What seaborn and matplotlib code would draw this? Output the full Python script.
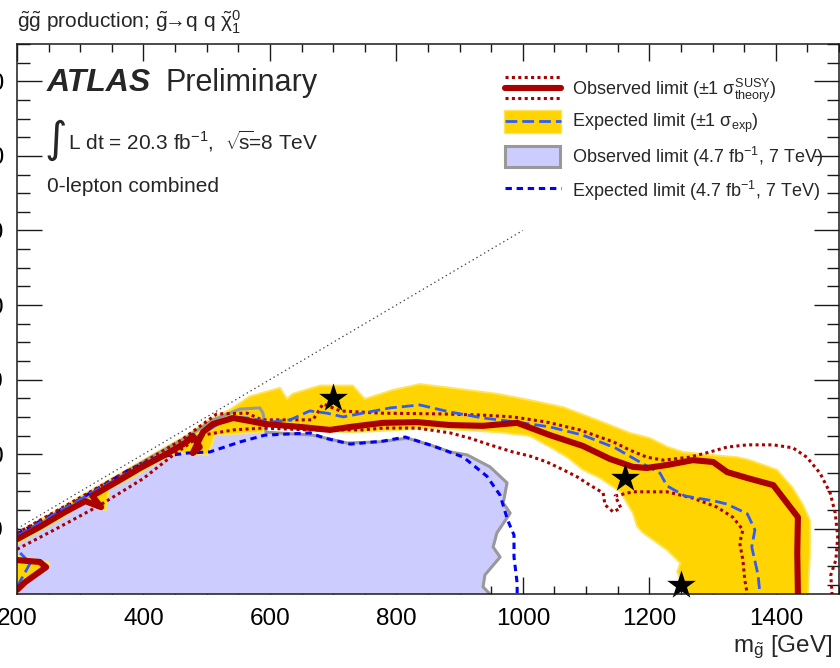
import matplotlib
matplotlib.use("Agg")
import matplotlib.pyplot as plt
from matplotlib.patches import Rectangle
from matplotlib.ticker import MultipleLocator
import seaborn as sns

# ---- exclusion contours in the (m_gluino, m_neutralino) plane [GeV] ----
# 7 TeV, 4.7 fb-1 observed limit (excluded area below the curve)
obs7_mg = [200, 200, 268, 331, 383, 410, 469, 510, 553, 584, 589, 594, 668, 722, 774, 817,
           853, 885, 912, 948, 975, 969, 980, 959, 953, 964, 940, 937, 948]
obs7_mx = [25, 178, 245, 304, 363, 390, 446, 492, 521, 524, 510, 459, 451, 430, 433, 443,
           425, 406, 398, 366, 323, 269, 242, 189, 151, 124, 76, 44, 25]

# 7 TeV expected limit
exp7_mg = [200, 300, 374, 421, 469, 505, 553, 592, 663, 687, 727, 779, 814, 858, 906, 943,
           964, 976, 986, 986, 991, 991]
exp7_mx = [186, 280, 355, 392, 403, 406, 433, 451, 457, 443, 427, 435, 446, 422, 392, 341,
           290, 223, 183, 124, 54, 25]

# 8 TeV expected +-1 sigma band: outer edge (left to right) and inner edge (right to left)
band_out_mg = [200, 265, 330, 385, 430, 470, 500, 537, 568, 616, 627, 636, 679, 731, 750, 794,
               837, 885, 959, 1011, 1064, 1117, 1169, 1201, 1228, 1253, 1296, 1339, 1359, 1402,
               1427, 1443, 1454, 1454, 1451]
band_out_mx = [188, 252, 316, 370, 414, 452, 488, 520, 555, 578, 548, 562, 584, 584, 548, 572,
               588, 578, 562, 545, 526, 492, 457, 443, 420, 406, 398, 392, 384, 358,
               309, 264, 223, 135, 25]
band_in_mg = [1260, 1244, 1249, 1228, 1190, 1181, 1174, 1154, 1122, 1095, 1070, 1043, 1011, 959,
              905, 853, 774, 722, 668, 627, 595, 589, 513, 502, 476, 455, 426, 383, 345, 340,
              305, 268, 200]
band_in_mx = [25, 84, 108, 143, 189, 205, 242, 299, 336, 358, 392, 419, 449, 459,
              465, 470, 462, 459, 465, 481, 481, 459, 451, 398, 400, 405, 382, 338, 305, 250,
              268, 225, 160]

# 8 TeV expected limit
exp8_mg = [200, 260, 330, 400, 460, 474, 489, 537, 564, 600, 632, 663, 690, 716, 747, 790, 837,
           885, 937, 991, 1043, 1095, 1146, 1185, 1217, 1228, 1256, 1304, 1323, 1355, 1367, 1362,
           1372, 1375]
exp8_mx = [180, 240, 308, 372, 425, 433, 451, 500, 497, 486, 492, 516, 510, 500, 510, 524, 532,
           513, 497, 486, 473, 451, 417, 379, 349, 315, 288, 274, 266, 240, 197, 151,
           76, 25]

# 8 TeV observed limit
obs8_mg = [200, 236, 276, 308, 333, 319, 363, 395, 434, 466, 478, 489, 478, 494, 510, 542, 568,
           592, 648, 695, 727, 779, 833, 885, 937, 991, 1043, 1095, 1138, 1174, 1196, 1228, 1269,
           1301, 1323, 1355, 1396, 1435, 1434, 1435]
obs8_mx = [172, 205, 245, 274, 258, 288, 331, 363, 398, 430, 449, 419, 403, 459, 481, 497, 489,
           481, 473, 465, 473, 484, 486, 478, 476, 484, 451, 422, 387, 366, 363, 371, 384,
           379, 352, 336, 317, 231, 135, 25]

# observed limit with signal cross-section shifted by +1 sigma (theory)
obs_up_mg = [200, 270, 340, 410, 460, 516, 564, 587, 668, 684, 711, 774, 869, 932, 984, 1038,
             1090, 1143, 1169, 1196, 1222, 1264, 1296, 1323, 1355, 1396, 1427, 1449, 1470, 1486,
             1494, 1498, 1495, 1487, 1489]
obs_up_mx = [188, 255, 322, 388, 438, 508, 510, 492, 492, 535, 516, 510, 508, 505, 500, 486,
             465, 433, 411, 392, 384, 392, 406, 419, 425, 425, 417, 392, 349, 296,
             242, 178, 116, 76, 25]

# observed limit with signal cross-section shifted by -1 sigma (theory)
obs_dn_mg = [200, 260, 330, 400, 445, 490, 542, 589, 663, 747, 779, 833, 885, 916, 948, 984,
             1011, 1038, 1064, 1086, 1106, 1127, 1130, 1143, 1155, 1146, 1174, 1228, 1269, 1307,
             1332, 1348, 1343, 1348, 1351, 1355]
obs_dn_mx = [145, 198, 262, 335, 395, 450, 465, 470, 465, 465, 470, 470, 457, 443, 425, 406,
             395, 379, 358, 339, 317, 296, 264, 245, 256, 288, 299, 299, 282, 258,
             231, 197, 162, 116, 63, 25]

# small low-mass island next to the m_gluino = 200 GeV edge
isl_band_mg = [200, 252, 225, 200]
isl_band_mx = [129, 108, 71, 28]
isl_obs_mg = [200, 236, 246, 213, 200]
isl_obs_mx = [116, 111, 97, 57, 36]
isl_exp_mg = [200, 221, 205]
isl_exp_mx = [44, 108, 135]

# kinematic boundary m_gluino = m_neutralino
diag_mg = [200, 1000]
diag_mx = [200, 1000]

# benchmark signal points
star_mg = [700, 1162, 1250]
star_mx = [550, 337, 50]

x_ticks = [200, 400, 600, 800, 1000, 1200, 1400]
y_ticks = [200, 400, 600, 800, 1000, 1200, 1400]

RED = "#aa0000"
YELLOW = "#ffd400"
BLUE8 = "#2f5cff"
BLUE7 = "#0000ff"
LILAC = "#ccccff"
GREY = "#999999"

sns.set_theme(style="ticks")
plt.rcParams.update({
    "font.family": ["Liberation Sans", "DejaVu Sans"],
    "mathtext.fontset": "custom",
    "mathtext.rm": "Liberation Sans",
    "mathtext.it": "Liberation Sans",
    "mathtext.bf": "Liberation Sans:bold",
    "mathtext.sf": "Liberation Sans",
    "lines.scale_dashes": False,
    "axes.linewidth": 1.1,
    "axes.edgecolor": "#1a1a1a",
})

W, H = 840, 668
fig = plt.figure(figsize=(W / 100, H / 100), dpi=100)
ax = fig.add_axes([17 / W, 74 / H, 822 / W, 550 / H])
ax.set_facecolor("white")


def curve(xs, ys, **kw):
    sns.lineplot(x=xs, y=ys, sort=False, estimator=None, ax=ax, **kw)


dotted = (0, (2.2, 2.4))
long_dash = (0, (8.5, 3.6))
short_dash = (0, (4.6, 3.4))

# 7 TeV excluded region
ax.fill(obs7_mg, obs7_mx, color=LILAC, lw=0, zorder=1)

# 8 TeV expected band
ax.fill(band_out_mg + band_in_mg, band_out_mx + band_in_mx, facecolor=YELLOW,
        edgecolor="#ffe45a", lw=1.4, zorder=2)
ax.fill(isl_band_mg, isl_band_mx, facecolor=YELLOW, edgecolor="#ffe45a", lw=1.4, zorder=2)

curve(obs7_mg[1:], obs7_mx[1:], color=GREY, lw=2.2, zorder=3)
curve(diag_mg, diag_mx, color="#444444", lw=0.9, linestyle=(0, (1.0, 2.2)), zorder=3)
curve(exp7_mg, exp7_mx, color=BLUE7, lw=2.2, linestyle=short_dash, zorder=4)

curve(obs_up_mg, obs_up_mx, color=RED, lw=2.2, linestyle=dotted, zorder=5)
curve(obs_dn_mg, obs_dn_mx, color=RED, lw=2.2, linestyle=dotted, zorder=5)
curve(exp8_mg, exp8_mx, color=BLUE8, lw=2.0, linestyle=long_dash, zorder=6)
curve(isl_exp_mg, isl_exp_mx, color=BLUE8, lw=2.0, linestyle=long_dash, zorder=6)
curve(obs8_mg, obs8_mx, color=RED, lw=4.4, zorder=7, solid_joinstyle="round")
curve(isl_obs_mg, isl_obs_mx, color=RED, lw=4.4, zorder=7, solid_joinstyle="round")

sns.scatterplot(x=star_mg, y=star_mx, marker="*", s=470, color="black", linewidth=0,
                ax=ax, zorder=9, clip_on=False)

# axes, ticks
ax.set_xlim(200, 1500)
ax.set_ylim(25, 1500)
ax.set_xticks(x_ticks)
ax.set_yticks(y_ticks)
ax.xaxis.set_minor_locator(MultipleLocator(50))
ax.yaxis.set_minor_locator(MultipleLocator(50))
ax.tick_params(which="both", direction="in", top=True, right=True, width=1.0,
               color="#1a1a1a", labelcolor="black")
ax.tick_params(axis="x", which="major", length=12.5, labelsize=17.5, pad=10)
ax.tick_params(axis="x", which="minor", length=6)
ax.tick_params(axis="y", which="major", length=18, labelsize=17.5, pad=9.4)
ax.tick_params(axis="y", which="minor", length=9)
ax.set_xlabel("")
ax.set_ylabel("")
for s in ax.spines.values():
    s.set_visible(True)
    s.set_zorder(10)


def fx(px):
    return px / W


def fy(py):
    return 1 - py / H


fig.text(fx(833), fy(652), r"m$_{\tilde{g}}$ [GeV]", ha="right", va="baseline", fontsize=17.5)

# headline and labels
fig.text(fx(17), fy(28),
         r"$\tilde{g}\tilde{g}$ production; $\tilde{g}\!\!\rightarrow\!\!\!$ q q $\tilde{\chi}^{0}_{1}$",
         ha="left", va="baseline", fontsize=15)
fig.text(fx(47), fy(91), "ATLAS", ha="left", va="baseline", fontsize=23,
         fontweight="bold", fontstyle="italic")
fig.text(fx(165), fy(91), "Preliminary", ha="left", va="baseline", fontsize=22)
fig.text(fx(44), fy(140), "\u222b", ha="left", va="center", fontsize=31, family="DejaVu Sans")
fig.text(fx(68), fy(150), r"L dt = 20.3 fb$^{-1}$,  $\sqrt{\!s}\!$=8 TeV", ha="left",
         va="baseline", fontsize=15)
fig.text(fx(47), fy(192), "0-lepton combined", ha="left", va="baseline", fontsize=15)


# legend
def axx(px):
    return (px - 17) / 822


def axy(py):
    return (594 - py) / 550


tr = ax.transAxes
x0, x1 = axx(505), axx(561)
ax.plot([x0, x1], [axy(77)] * 2, transform=tr, color=RED, lw=2.2, ls=dotted, zorder=11)
ax.plot([x0, x1], [axy(87.5)] * 2, transform=tr, color=RED, lw=4.4, zorder=11)
ax.plot([x0, x1], [axy(98)] * 2, transform=tr, color=RED, lw=2.2, ls=dotted, zorder=11)
ax.add_patch(Rectangle((axx(504), axy(133)), 57 / 822, 23 / 550, transform=tr,
                       facecolor=YELLOW, edgecolor="#ffe45a", lw=1, zorder=11))
ax.plot([x0, x1], [axy(121)] * 2, transform=tr, color=BLUE8, lw=2.0, ls=long_dash, zorder=12)
ax.add_patch(Rectangle((axx(505), axy(167)), 55 / 822, 21 / 550, transform=tr,
                       facecolor=LILAC, edgecolor=GREY, lw=2.2, zorder=11))
ax.plot([x0, x1], [axy(188)] * 2, transform=tr, color=BLUE7, lw=2.2, ls=short_dash, zorder=11)

leg_txt = [
    (95, r"Observed limit ($\pm$1 $\sigma^{\mathrm{SUSY}}_{\mathrm{theory}}$)"),
    (127, r"Expected limit ($\pm$1 $\sigma_{\mathrm{exp}}$)"),
    (163, r"Observed limit (4.7 fb$^{-1}$, 7 TeV)"),
    (197, r"Expected limit (4.7 fb$^{-1}$, 7 TeV)"),
]
for py, t in leg_txt:
    fig.text(fx(572), fy(py), t, ha="left", va="baseline", fontsize=13)

fig.savefig("out.png", dpi=100)
